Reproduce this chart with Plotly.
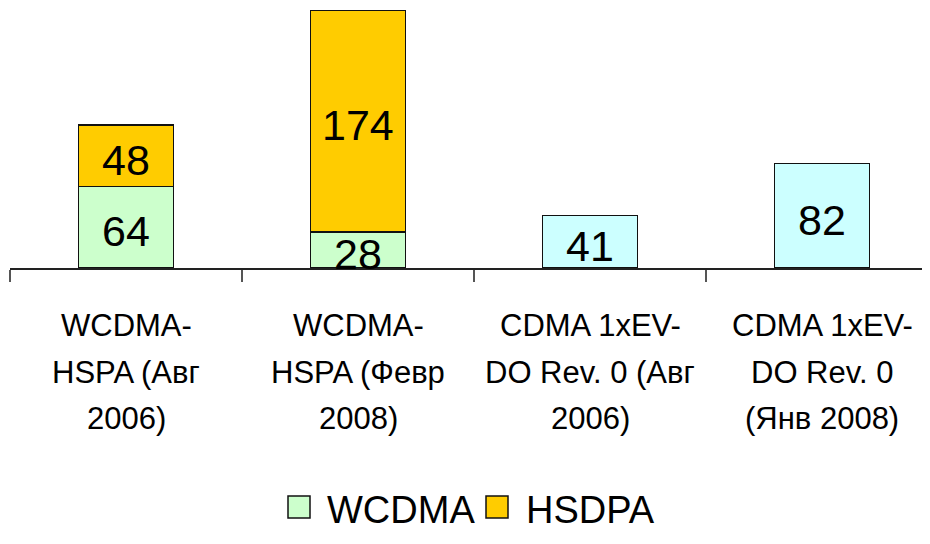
import plotly.graph_objects as go

categories = ["WCDMA-HSPA (Авг 2006)", "WCDMA-HSPA (Февр 2008)",
              "CDMA 1xEV-DO Rev. 0 (Авг 2006)", "CDMA 1xEV-DO Rev. 0 (Янв 2008)"]
label_lines = [["WCDMA-", "HSPA (Авг", "2006)"],
               ["WCDMA-", "HSPA (Февр", "2008)"],
               ["CDMA 1xEV-", "DO Rev. 0 (Авг", "2006)"],
               ["CDMA 1xEV-", "DO Rev. 0", "(Янв 2008)"]]
wcdma = [64, 28, None, None]
hsdpa = [48, 174, None, None]
cdma = [None, None, 41, 82]

FONT = "Liberation Sans, Arial, sans-serif"
OFF = 8  # page body margin
W, H = 930 - OFF, 544 - OFF
L, R, T, B = 10 - OFF, 0, 10 - OFF, 276

fig = go.Figure()
common = dict(width=0.41, marker_line=dict(color="#111", width=1.5), showlegend=False)
fig.add_trace(go.Bar(name="WCDMA", x=categories, y=wcdma, marker_color="#CCFFCC", **common))
fig.add_trace(go.Bar(name="HSDPA", x=categories, y=hsdpa, marker_color="#FFCC00", **common))
fig.add_trace(go.Bar(name="CDMA", x=categories, y=cdma, marker_color="#CCFFFF", **common))

# value labels centred in each segment
for i, cat in enumerate(categories):
    base = 0
    for series in (wcdma, hsdpa, cdma):
        v = series[i]
        if v is None:
            continue
        fig.add_annotation(x=cat, y=base + v / 2, text=str(v), showarrow=False,
                           xref="x", yref="y", yshift=-4,
                           font=dict(family=FONT, size=43, color="black"))
        base += v

pw = W - L - R
ph = H - T - B
def px(x):
    return (x - OFF - L) / pw
def py(y):
    return (H - B - (y - OFF)) / ph

# category labels (one annotation per line for the reference's line spacing)
line_y = [325, 372, 418]
for cat, lines in zip(categories, label_lines):
    for ly, txt in zip(line_y, lines):
        fig.add_annotation(x=cat, xref="x", yref="paper", y=py(ly), text=txt,
                           showarrow=False, xanchor="center", yanchor="middle",
                           font=dict(family=FONT, size=31, color="black"))

# manual legend
legend_items = [("WCDMA", "#CCFFCC", 288, 325), ("HSDPA", "#FFCC00", 486, 524)]
for name, col, sx, tx in legend_items:
    fig.add_shape(type="rect", xref="paper", yref="paper",
                  x0=px(sx), x1=px(sx + 22), y0=py(496), y1=py(518),
                  fillcolor=col, line=dict(color="#111", width=1.5))
    fig.add_annotation(text=name, xref="paper", yref="paper", x=px(tx), y=py(510),
                       xanchor="left", yanchor="middle", showarrow=False,
                       font=dict(family=FONT, size=38, color="black"))

fig.update_layout(
    width=W, height=H, barmode="stack",
    margin=dict(l=L, r=R, t=T, b=B, autoexpand=False),
    plot_bgcolor="white", paper_bgcolor="white",
    xaxis=dict(range=[-0.5, -0.5 + pw / 232.0], showline=True, linecolor="#222", linewidth=1.5,
               ticks="outside", tickson="boundaries", ticklen=12, tickcolor="#555", tickwidth=1.5,
               showticklabels=False, showgrid=False, automargin=False, fixedrange=True),
    yaxis=dict(range=[0, 202], visible=False, showgrid=False, fixedrange=True),
)

fig.write_html("out.html")
